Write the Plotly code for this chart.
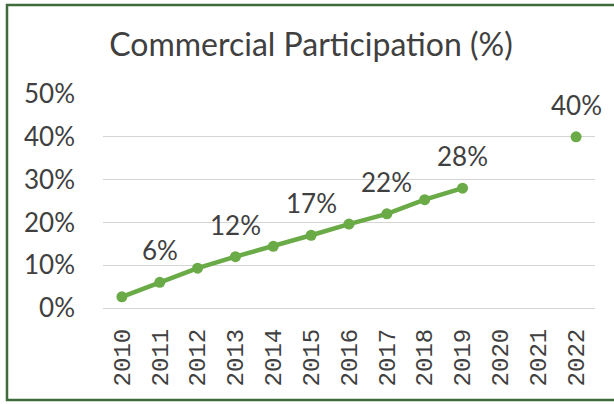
import plotly.graph_objects as go

# Commercial participation share by year (percent)
years = ["2010", "2011", "2012", "2013", "2014", "2015", "2016",
         "2017", "2018", "2019", "2020", "2021", "2022"]
trend_years = ["2010", "2011", "2012", "2013", "2014", "2015", "2016",
               "2017", "2018", "2019"]
trend_values = [2.6, 6, 9.3, 12, 14.4, 17, 19.6, 22, 25.3, 28]
target_year = ["2022"]
target_value = [40]
labelled_years = ["2011", "2013", "2015", "2017", "2019", "2022"]
y_ticks = [0, 10, 20, 30, 40, 50]

GREEN = "#6aab47"
TEXT = "#404040"
FONT = "Lato"

fig = go.Figure()
fig.add_trace(go.Scatter(
    x=trend_years, y=trend_values, mode="lines+markers",
    line=dict(color=GREEN, width=4.5),
    marker=dict(color=GREEN, size=11),
    hoverinfo="skip", showlegend=False,
))
fig.add_trace(go.Scatter(
    x=target_year, y=target_value, mode="markers",
    marker=dict(color=GREEN, size=11),
    hoverinfo="skip", showlegend=False,
))

# value labels above selected points (category axis -> use positional index)
all_x = trend_years + target_year
all_y = trend_values + target_value
for xv, yv in zip(all_x, all_y):
    if xv in labelled_years:
        fig.add_annotation(
            x=years.index(xv), y=yv, text=f"{yv:.0f}%", showarrow=False,
            yshift=32, font=dict(family=FONT, size=26, color=TEXT),
        )

# plot area geometry (pixels)
W, H = 614, 404
L, R, T, B = 103, 19, 94, 96
pw, ph = W - L - R, H - T - B

fig.add_shape(
    type="rect", xref="paper", yref="paper",
    x0=(7 - L) / pw, x1=(W + 10 - L) / pw,
    y0=(H - B - 400) / ph, y1=(H - B - 5) / ph,
    line=dict(color="#3f6b3a", width=2.5), fillcolor="rgba(0,0,0,0)",
    layer="below",
)

fig.update_layout(
    width=W, height=H,
    margin=dict(l=L, r=R, t=T, b=B),
    paper_bgcolor="white", plot_bgcolor="white",
    title=dict(
        text="Commercial Participation (%)",
        x=311 / W, xanchor="center", xref="container",
        y=1 - 45 / H, yanchor="middle", yref="container",
        font=dict(family=FONT, size=32, color=TEXT),
    ),
    xaxis=dict(
        type="category", categoryorder="array", categoryarray=years,
        range=[-0.5, len(years) - 0.5],
        tickvals=years, ticktext=years, tickangle=-90,
        tickfont=dict(family="Liberation Mono", size=24, color=TEXT),
        showgrid=False, zeroline=False, showline=False, ticks="",
        ticklabelstandoff=15,
    ),
    yaxis=dict(
        range=[0, 50], tickvals=y_ticks,
        ticktext=[f"{v}%" for v in y_ticks],
        tickfont=dict(family=FONT, size=26, color=TEXT),
        showgrid=True, gridcolor="#d4d4d4", gridwidth=1,
        zeroline=True, zerolinecolor="#d4d4d4", zerolinewidth=1,
        showline=False, ticks="", ticklabelstandoff=27,
    ),
)

fig.write_html("out.html")
